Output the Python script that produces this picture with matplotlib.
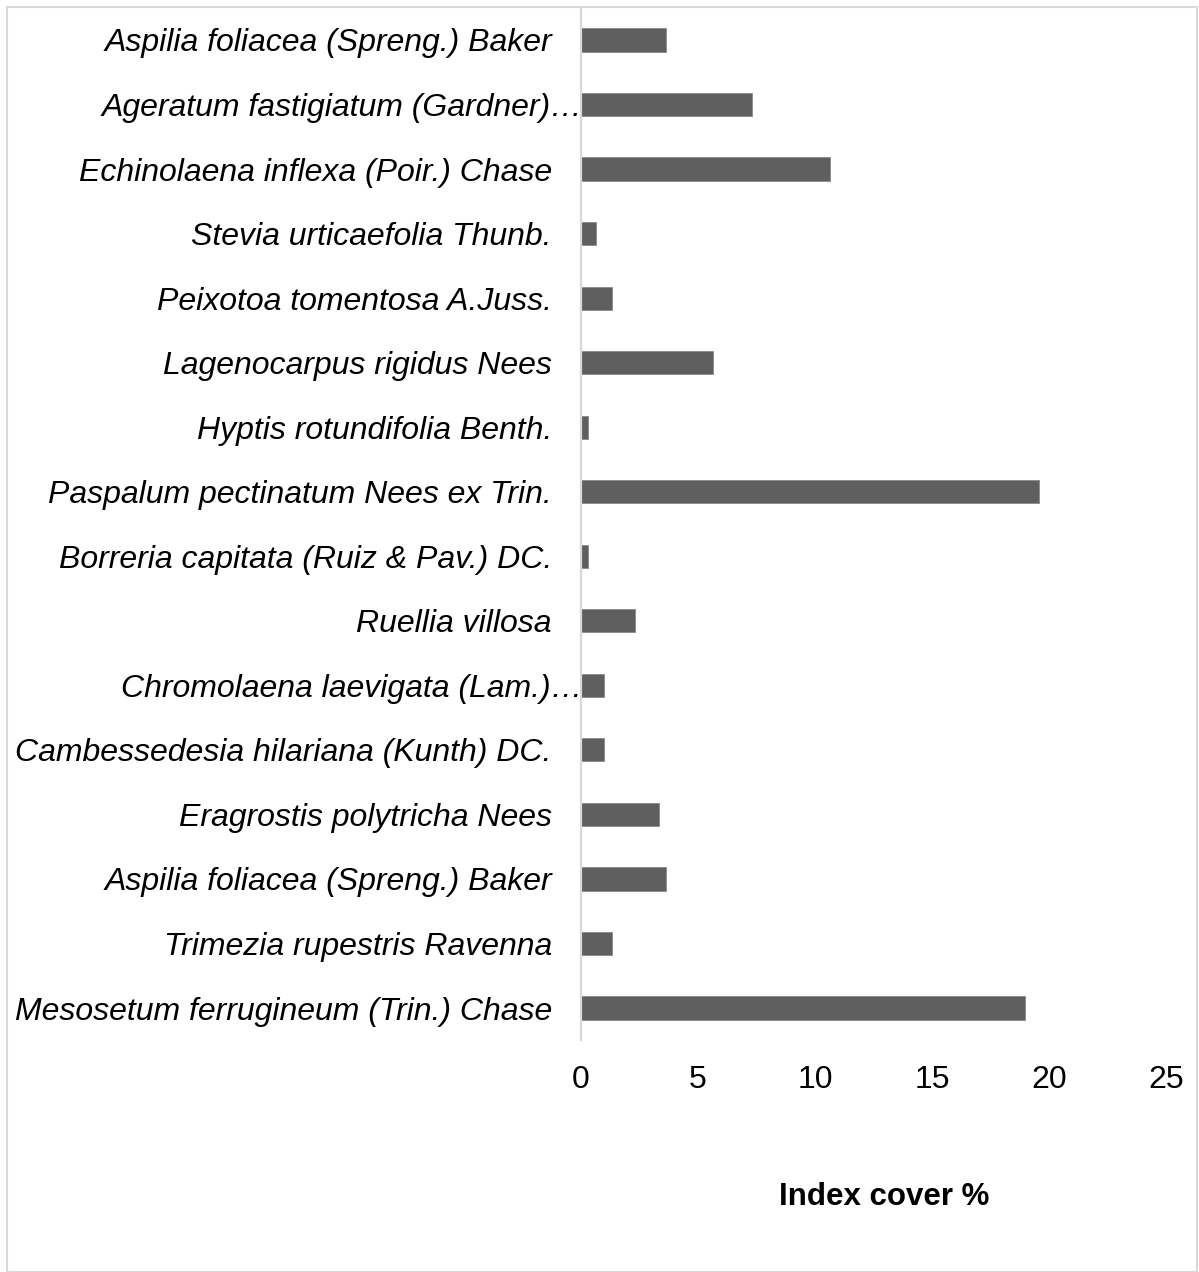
import matplotlib
matplotlib.use("Agg")
import matplotlib.pyplot as plt
import matplotlib.transforms as mtransforms
from matplotlib.patches import Rectangle

# Species, listed bottom to top as they appear on the axis
species = [
    "Mesosetum ferrugineum (Trin.) Chase",
    "Trimezia rupestris Ravenna",
    "Aspilia foliacea (Spreng.) Baker",
    "Eragrostis polytricha Nees",
    "Cambessedesia hilariana (Kunth) DC.",
    "Chromolaena laevigata (Lam.)…",
    "Ruellia villosa",
    "Borreria capitata (Ruiz & Pav.) DC.",
    "Paspalum pectinatum Nees ex Trin.",
    "Hyptis rotundifolia Benth.",
    "Lagenocarpus rigidus Nees",
    "Peixotoa tomentosa A.Juss.",
    "Stevia urticaefolia Thunb.",
    "Echinolaena inflexa (Poir.) Chase",
    "Ageratum fastigiatum (Gardner)…",
    "Aspilia foliacea (Spreng.) Baker",
]
cover = [18.97, 1.31, 3.65, 3.32, 0.97, 0.97, 2.31, 0.31,
         19.59, 0.31, 5.64, 1.31, 0.64, 10.63, 7.32, 3.65]
xticks = [0, 5, 10, 15, 20, 25]
xlabel = "Index cover %"

plt.rcParams["font.family"] = ["Liberation Sans", "DejaVu Sans"]

W, H = 1199, 1272
fig = plt.figure(figsize=(W / 100, H / 100), dpi=100)
ax = fig.add_axes([581 / W, 1 - 1040.3 / H, (1166 - 581) / W, (1040.3 - 7.7) / H])

y = list(range(len(species)))
ax.barh(y, cover, height=0.36, color="#5f5f5f", edgecolor="#8a8a8a",
        linewidth=0.6, zorder=2)

ax.set_xlim(0, 25)
ax.set_ylim(-0.5, len(species) - 0.5)
ax.set_xticks(xticks)
ax.set_xticklabels([str(t) for t in xticks], fontsize=23)
ax.set_yticks(y)
ax.set_yticklabels(species, fontsize=23, style="italic")

ax.tick_params(axis="both", length=0)
ax.tick_params(axis="x", pad=18)
ax.tick_params(axis="y", pad=21)

# Truncated names run up to the axis line
for lbl in ax.get_yticklabels():
    if lbl.get_text().endswith("…"):
        lbl.set_transform(lbl.get_transform() +
                          mtransforms.ScaledTranslation(31 / 100, 0, fig.dpi_scale_trans))

for side in ("top", "right", "bottom"):
    ax.spines[side].set_visible(False)
ax.spines["left"].set_color("#d9d9d9")
ax.spines["left"].set_linewidth(1.6)

ax.set_xlabel(xlabel, fontsize=22.5, fontweight="bold")
ax.xaxis.set_label_coords(0.518, -0.137)

# Chart-area border
fig.patches.append(Rectangle((7 / W, 0), (1197 - 7) / W, 1 - 7 / H,
                             transform=fig.transFigure, fill=False,
                             edgecolor="#d9d9d9", linewidth=1.5))

fig.savefig("out.png", dpi=100)
